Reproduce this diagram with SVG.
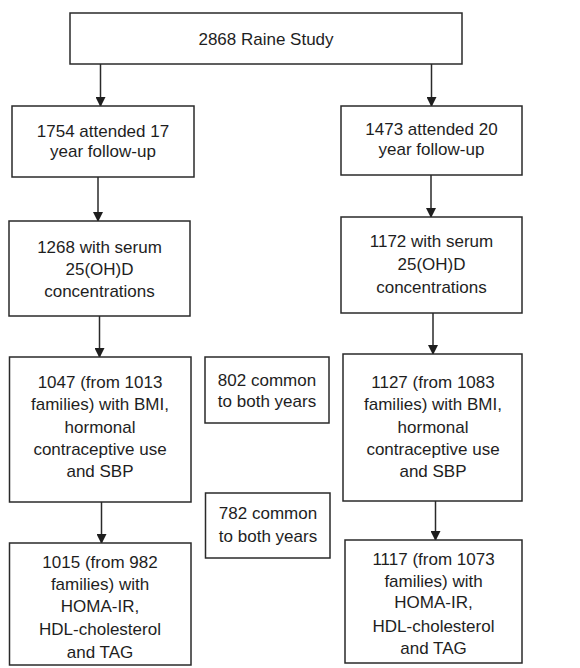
<svg xmlns="http://www.w3.org/2000/svg" width="580" height="668" viewBox="0 0 580 668">
<style>
.box{fill:#fff;stroke:#2a2a2a;stroke-width:1.5}
.t{font-family:"Liberation Sans",Arial,sans-serif;font-size:17px;fill:#1e1e1e;text-anchor:middle}
.c{stroke:#2a2a2a;stroke-width:1.5;fill:none;marker-end:url(#ah)}
</style>
<defs>
<marker id="ah" markerWidth="10" markerHeight="10" refX="9" refY="5" orient="auto" markerUnits="userSpaceOnUse">
<path d="M0,0 L10,5 L0,10 Z" fill="#1e1e1e"/>
</marker>
</defs>
<rect width="580" height="668" fill="#fff"/>
<g id="connectors">
<line class="c" x1="100.5" y1="64" x2="100.5" y2="106"/>
<line class="c" x1="431.5" y1="64" x2="431.5" y2="106"/>
<line class="c" x1="98" y1="177" x2="98" y2="221"/>
<line class="c" x1="431" y1="175" x2="431" y2="217"/>
<line class="c" x1="99.5" y1="316" x2="99.5" y2="357"/>
<line class="c" x1="433" y1="313" x2="433" y2="354"/>
<line class="c" x1="101.5" y1="502" x2="101.5" y2="543"/>
<line class="c" x1="435.5" y1="501" x2="435.5" y2="540"/>
</g>
<g id="n_top">
<rect class="box" x="70" y="13" width="392" height="51"/>
<text class="t" x="266" y="45">2868 Raine Study</text>
</g>
<g id="n_17">
<rect class="box" x="12" y="106" width="182" height="71"/>
<text class="t" x="103" y="137">1754 attended 17</text>
<text class="t" x="103" y="157">year follow-up</text>
</g>
<g id="n_20">
<rect class="box" x="341" y="106" width="181" height="69"/>
<text class="t" x="431.5" y="135">1473 attended 20</text>
<text class="t" x="431.5" y="155">year follow-up</text>
</g>
<g id="n_serum17">
<rect class="box" x="9" y="221" width="181" height="95"/>
<text class="t" x="99.5" y="253">1268 with serum</text>
<text class="t" x="99.5" y="275">25(OH)D</text>
<text class="t" x="99.5" y="297">concentrations</text>
</g>
<g id="n_serum20">
<rect class="box" x="341" y="217" width="181" height="96"/>
<text class="t" x="431.5" y="247">1172 with serum</text>
<text class="t" x="431.5" y="270">25(OH)D</text>
<text class="t" x="431.5" y="293">concentrations</text>
</g>
<g id="n_bmi17">
<rect class="box" x="9.5" y="357" width="181.5" height="145"/>
<text class="t" x="100" y="388">1047 (from 1013</text>
<text class="t" x="100" y="410">families) with BMI,</text>
<text class="t" x="100" y="433">hormonal</text>
<text class="t" x="100" y="455">contraceptive use</text>
<text class="t" x="100" y="477">and SBP</text>
</g>
<g id="n_common802">
<rect class="box" x="205" y="357" width="124" height="66"/>
<text class="t" x="267" y="386">802 common</text>
<text class="t" x="267" y="407">to both years</text>
</g>
<g id="n_bmi20">
<rect class="box" x="343" y="354" width="179" height="147"/>
<text class="t" x="433" y="388">1127 (from 1083</text>
<text class="t" x="433" y="410">families) with BMI,</text>
<text class="t" x="433" y="433">hormonal</text>
<text class="t" x="433" y="455">contraceptive use</text>
<text class="t" x="433" y="477">and SBP</text>
</g>
<g id="n_common782">
<rect class="box" x="205.5" y="493" width="124.5" height="65"/>
<text class="t" x="268" y="519">782 common</text>
<text class="t" x="268" y="542">to both years</text>
</g>
<g id="n_homa17">
<rect class="box" x="9.5" y="543" width="181.5" height="122"/>
<text class="t" x="100" y="568">1015 (from 982</text>
<text class="t" x="100" y="590">families) with</text>
<text class="t" x="100" y="612">HOMA-IR,</text>
<text class="t" x="100" y="635">HDL-cholesterol</text>
<text class="t" x="100" y="658">and TAG</text>
</g>
<g id="n_homa20">
<rect class="box" x="345" y="540" width="177" height="123"/>
<text class="t" x="433.5" y="565">1117 (from 1073</text>
<text class="t" x="433.5" y="587">families) with</text>
<text class="t" x="433.5" y="608">HOMA-IR,</text>
<text class="t" x="433.5" y="632">HDL-cholesterol</text>
<text class="t" x="433.5" y="654">and TAG</text>
</g>
</svg>
